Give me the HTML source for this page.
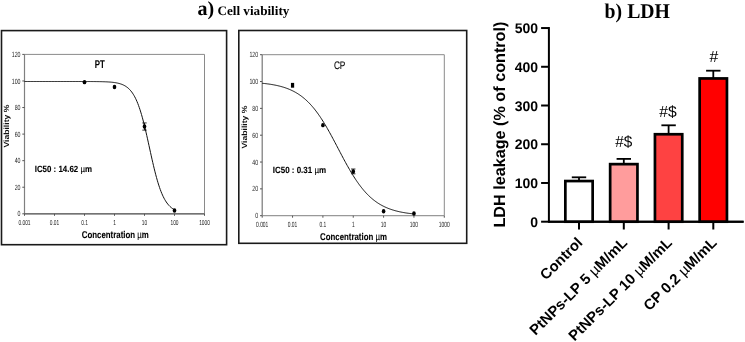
<!DOCTYPE html>
<html><head><meta charset="utf-8"><style>
html,body{margin:0;padding:0;background:#fff;}
svg{display:block;will-change:transform;text-rendering:geometricPrecision;font-family:"Liberation Sans",sans-serif;}
</style></head><body>
<svg width="745" height="342" viewBox="0 0 745 342">
<rect width="745" height="342" fill="#fff"/>
<rect x="1.5" y="30.6" width="225.1" height="214.1" fill="none" stroke="#1a1a1a" stroke-width="1.6"/>
<line x1="24.5" y1="54.4" x2="204.5" y2="54.4" stroke="#8a8a8a" stroke-width="1"/>
<line x1="204.5" y1="54.4" x2="204.5" y2="213.8" stroke="#8a8a8a" stroke-width="1"/>
<line x1="24.5" y1="54.4" x2="24.5" y2="213.8" stroke="#808080" stroke-width="1.2"/>
<line x1="24.5" y1="213.8" x2="204.5" y2="213.8" stroke="#444" stroke-width="1.3"/>
<line x1="22.3" y1="213.8" x2="24.5" y2="213.8" stroke="#555" stroke-width="1"/>
<text x="20.5" y="216.4" font-size="7.5" text-anchor="end" fill="#222" transform="translate(20.5 213.8) scale(0.7 1) translate(-20.5 -213.8)">0</text>
<line x1="22.3" y1="187.23333333333335" x2="24.5" y2="187.23333333333335" stroke="#555" stroke-width="1"/>
<text x="20.5" y="189.83333333333334" font-size="7.5" text-anchor="end" fill="#222" transform="translate(20.5 187.23333333333335) scale(0.7 1) translate(-20.5 -187.23333333333335)">20</text>
<line x1="22.3" y1="160.66666666666669" x2="24.5" y2="160.66666666666669" stroke="#555" stroke-width="1"/>
<text x="20.5" y="163.26666666666668" font-size="7.5" text-anchor="end" fill="#222" transform="translate(20.5 160.66666666666669) scale(0.7 1) translate(-20.5 -160.66666666666669)">40</text>
<line x1="22.3" y1="134.10000000000002" x2="24.5" y2="134.10000000000002" stroke="#555" stroke-width="1"/>
<text x="20.5" y="136.70000000000002" font-size="7.5" text-anchor="end" fill="#222" transform="translate(20.5 134.10000000000002) scale(0.7 1) translate(-20.5 -134.10000000000002)">60</text>
<line x1="22.3" y1="107.53333333333335" x2="24.5" y2="107.53333333333335" stroke="#555" stroke-width="1"/>
<text x="20.5" y="110.13333333333334" font-size="7.5" text-anchor="end" fill="#222" transform="translate(20.5 107.53333333333335) scale(0.7 1) translate(-20.5 -107.53333333333335)">80</text>
<line x1="22.3" y1="80.96666666666667" x2="24.5" y2="80.96666666666667" stroke="#555" stroke-width="1"/>
<text x="20.5" y="83.56666666666666" font-size="7.5" text-anchor="end" fill="#222" transform="translate(20.5 80.96666666666667) scale(0.7 1) translate(-20.5 -80.96666666666667)">100</text>
<line x1="22.3" y1="54.400000000000006" x2="24.5" y2="54.400000000000006" stroke="#555" stroke-width="1"/>
<text x="20.5" y="57.00000000000001" font-size="7.5" text-anchor="end" fill="#222" transform="translate(20.5 54.400000000000006) scale(0.7 1) translate(-20.5 -54.400000000000006)">120</text>
<line x1="24.5" y1="213.8" x2="24.5" y2="215.8" stroke="#555" stroke-width="1"/>
<text x="24.5" y="225.4" font-size="7.2" text-anchor="middle" fill="#222" transform="translate(24.5 0) scale(0.67 1) translate(-24.5 0)">0.001</text>
<line x1="54.5" y1="213.8" x2="54.5" y2="215.8" stroke="#555" stroke-width="1"/>
<text x="54.5" y="225.4" font-size="7.2" text-anchor="middle" fill="#222" transform="translate(54.5 0) scale(0.67 1) translate(-54.5 0)">0.01</text>
<line x1="84.5" y1="213.8" x2="84.5" y2="215.8" stroke="#555" stroke-width="1"/>
<text x="84.5" y="225.4" font-size="7.2" text-anchor="middle" fill="#222" transform="translate(84.5 0) scale(0.67 1) translate(-84.5 0)">0.1</text>
<line x1="114.5" y1="213.8" x2="114.5" y2="215.8" stroke="#555" stroke-width="1"/>
<text x="114.5" y="225.4" font-size="7.2" text-anchor="middle" fill="#222" transform="translate(114.5 0) scale(0.67 1) translate(-114.5 0)">1</text>
<line x1="144.5" y1="213.8" x2="144.5" y2="215.8" stroke="#555" stroke-width="1"/>
<text x="144.5" y="225.4" font-size="7.2" text-anchor="middle" fill="#222" transform="translate(144.5 0) scale(0.67 1) translate(-144.5 0)">10</text>
<line x1="174.5" y1="213.8" x2="174.5" y2="215.8" stroke="#555" stroke-width="1"/>
<text x="174.5" y="225.4" font-size="7.2" text-anchor="middle" fill="#222" transform="translate(174.5 0) scale(0.67 1) translate(-174.5 0)">100</text>
<line x1="204.5" y1="213.8" x2="204.5" y2="215.8" stroke="#555" stroke-width="1"/>
<text x="204.5" y="225.4" font-size="7.2" text-anchor="middle" fill="#222" transform="translate(204.5 0) scale(0.67 1) translate(-204.5 0)">1000</text>
<polyline points="24.50,81.50 25.25,81.50 26.00,81.50 26.75,81.50 27.50,81.50 28.25,81.50 29.00,81.50 29.75,81.50 30.50,81.50 31.25,81.50 32.00,81.50 32.75,81.50 33.50,81.50 34.25,81.50 35.00,81.50 35.75,81.50 36.50,81.50 37.25,81.50 38.00,81.50 38.75,81.50 39.50,81.50 40.25,81.50 41.00,81.50 41.75,81.50 42.50,81.50 43.25,81.50 44.00,81.50 44.75,81.50 45.50,81.50 46.25,81.50 47.00,81.50 47.75,81.50 48.50,81.50 49.25,81.50 50.00,81.50 50.75,81.50 51.50,81.50 52.25,81.50 53.00,81.50 53.75,81.50 54.50,81.50 55.25,81.50 56.00,81.50 56.75,81.50 57.50,81.50 58.25,81.50 59.00,81.50 59.75,81.50 60.50,81.50 61.25,81.50 62.00,81.50 62.75,81.50 63.50,81.50 64.25,81.50 65.00,81.50 65.75,81.50 66.50,81.50 67.25,81.50 68.00,81.50 68.75,81.50 69.50,81.50 70.25,81.50 71.00,81.50 71.75,81.50 72.50,81.50 73.25,81.50 74.00,81.50 74.75,81.50 75.50,81.50 76.25,81.50 77.00,81.50 77.75,81.50 78.50,81.51 79.25,81.51 80.00,81.51 80.75,81.51 81.50,81.51 82.25,81.51 83.00,81.51 83.75,81.51 84.50,81.51 85.25,81.52 86.00,81.52 86.75,81.52 87.50,81.52 88.25,81.53 89.00,81.53 89.75,81.53 90.50,81.54 91.25,81.54 92.00,81.55 92.75,81.55 93.50,81.56 94.25,81.56 95.00,81.57 95.75,81.58 96.50,81.59 97.25,81.60 98.00,81.61 98.75,81.62 99.50,81.63 100.25,81.65 101.00,81.66 101.75,81.68 102.50,81.70 103.25,81.72 104.00,81.75 104.75,81.77 105.50,81.80 106.25,81.84 107.00,81.87 107.75,81.91 108.50,81.96 109.25,82.01 110.00,82.06 110.75,82.13 111.50,82.19 112.25,82.27 113.00,82.35 113.75,82.45 114.50,82.55 115.25,82.66 116.00,82.79 116.75,82.93 117.50,83.08 118.25,83.25 119.00,83.44 119.75,83.65 120.50,83.88 121.25,84.13 122.00,84.42 122.75,84.73 123.50,85.07 124.25,85.45 125.00,85.86 125.75,86.32 126.50,86.83 127.25,87.38 128.00,88.00 128.75,88.67 129.50,89.40 130.25,90.21 131.00,91.09 131.75,92.06 132.50,93.11 133.25,94.25 134.00,95.50 134.75,96.85 135.50,98.31 136.25,99.89 137.00,101.59 137.75,103.42 138.50,105.39 139.25,107.48 140.00,109.71 140.75,112.08 141.50,114.59 142.25,117.22 143.00,119.99 143.75,122.88 144.50,125.88 145.25,128.98 146.00,132.18 146.75,135.46 147.50,138.80 148.25,142.19 149.00,145.60 149.75,149.03 150.50,152.45 151.25,155.84 152.00,159.19 152.75,162.48 153.50,165.69 154.25,168.82 155.00,171.84 155.75,174.75 156.50,177.54 157.25,180.21 158.00,182.74 158.75,185.13 159.50,187.39 160.25,189.51 161.00,191.50 161.75,193.36 162.50,195.08 163.25,196.69 164.00,198.17 164.75,199.55 165.50,200.81 166.25,201.97 167.00,203.04 167.75,204.02 168.50,204.92 169.25,205.74 170.00,206.49 170.75,207.18 171.50,207.80 172.25,208.36 173.00,208.88 173.75,209.35 174.50,209.77" fill="none" stroke="#111" stroke-width="1"/>
<ellipse cx="84.5" cy="82.16216666666668" rx="1.8" ry="2.2" fill="#000"/>
<ellipse cx="114.5" cy="86.94416666666667" rx="1.8" ry="2.2" fill="#000"/>
<line x1="144.5" y1="122.94200000000001" x2="144.5" y2="130.115" stroke="#000" stroke-width="0.8"/>
<line x1="142.3" y1="122.94200000000001" x2="146.7" y2="122.94200000000001" stroke="#000" stroke-width="0.8"/>
<line x1="142.3" y1="130.115" x2="146.7" y2="130.115" stroke="#000" stroke-width="0.8"/>
<ellipse cx="144.5" cy="126.52850000000001" rx="1.8" ry="2.2" fill="#000"/>
<ellipse cx="174.5" cy="210.47916666666669" rx="1.8" ry="2.2" fill="#000"/>
<text x="94.8" y="68.0" font-size="11.2" font-weight="bold" fill="#000" stroke="#000" stroke-width="0.12" textLength="10.0" lengthAdjust="spacingAndGlyphs">PT</text>
<text x="34.7" y="171.9" font-size="9" font-weight="bold" fill="#000" stroke="#000" stroke-width="0.1" textLength="57.3" lengthAdjust="spacingAndGlyphs">IC50 : 14.62 <tspan font-weight="normal">µ</tspan>m</text>
<text x="81.8" y="238.1" font-size="9.8" font-weight="bold" fill="#000" stroke="#000" stroke-width="0.1" textLength="67" lengthAdjust="spacingAndGlyphs">Concentration <tspan font-weight="normal">µ</tspan>m</text>
<text x="0" y="0" font-size="7.5" font-weight="bold" fill="#111" textLength="43" lengthAdjust="spacingAndGlyphs" transform="translate(9.1 147.6) rotate(-90)">Viability %</text>
<rect x="238.8" y="30.5" width="227.89999999999998" height="212.8" fill="none" stroke="#1a1a1a" stroke-width="1.6"/>
<line x1="262.2" y1="54.7" x2="444.3" y2="54.7" stroke="#8a8a8a" stroke-width="1"/>
<line x1="444.3" y1="54.7" x2="444.3" y2="215.7" stroke="#8a8a8a" stroke-width="1"/>
<line x1="262.2" y1="54.7" x2="262.2" y2="215.7" stroke="#777" stroke-width="1.2"/>
<line x1="262.2" y1="215.7" x2="444.3" y2="215.7" stroke="#999" stroke-width="1.3"/>
<line x1="260.0" y1="215.7" x2="262.2" y2="215.7" stroke="#555" stroke-width="1"/>
<text x="258.2" y="218.29999999999998" font-size="7.5" text-anchor="end" fill="#222" transform="translate(258.2 215.7) scale(0.7 1) translate(-258.2 -215.7)">0</text>
<line x1="260.0" y1="188.86666666666665" x2="262.2" y2="188.86666666666665" stroke="#555" stroke-width="1"/>
<text x="258.2" y="191.46666666666664" font-size="7.5" text-anchor="end" fill="#222" transform="translate(258.2 188.86666666666665) scale(0.7 1) translate(-258.2 -188.86666666666665)">20</text>
<line x1="260.0" y1="162.03333333333333" x2="262.2" y2="162.03333333333333" stroke="#555" stroke-width="1"/>
<text x="258.2" y="164.63333333333333" font-size="7.5" text-anchor="end" fill="#222" transform="translate(258.2 162.03333333333333) scale(0.7 1) translate(-258.2 -162.03333333333333)">40</text>
<line x1="260.0" y1="135.2" x2="262.2" y2="135.2" stroke="#555" stroke-width="1"/>
<text x="258.2" y="137.79999999999998" font-size="7.5" text-anchor="end" fill="#222" transform="translate(258.2 135.2) scale(0.7 1) translate(-258.2 -135.2)">60</text>
<line x1="260.0" y1="108.36666666666666" x2="262.2" y2="108.36666666666666" stroke="#555" stroke-width="1"/>
<text x="258.2" y="110.96666666666665" font-size="7.5" text-anchor="end" fill="#222" transform="translate(258.2 108.36666666666666) scale(0.7 1) translate(-258.2 -108.36666666666666)">80</text>
<line x1="260.0" y1="81.53333333333333" x2="262.2" y2="81.53333333333333" stroke="#555" stroke-width="1"/>
<text x="258.2" y="84.13333333333333" font-size="7.5" text-anchor="end" fill="#222" transform="translate(258.2 81.53333333333333) scale(0.7 1) translate(-258.2 -81.53333333333333)">100</text>
<line x1="260.0" y1="54.69999999999999" x2="262.2" y2="54.69999999999999" stroke="#555" stroke-width="1"/>
<text x="258.2" y="57.29999999999999" font-size="7.5" text-anchor="end" fill="#222" transform="translate(258.2 54.69999999999999) scale(0.7 1) translate(-258.2 -54.69999999999999)">120</text>
<line x1="262.2" y1="215.7" x2="262.2" y2="217.7" stroke="#555" stroke-width="1"/>
<text x="262.2" y="227.1" font-size="7.7" text-anchor="middle" fill="#222" transform="translate(262.2 0) scale(0.64 1) translate(-262.2 0)">0.001</text>
<line x1="292.55" y1="215.7" x2="292.55" y2="217.7" stroke="#555" stroke-width="1"/>
<text x="292.55" y="227.1" font-size="7.7" text-anchor="middle" fill="#222" transform="translate(292.55 0) scale(0.64 1) translate(-292.55 0)">0.01</text>
<line x1="322.9" y1="215.7" x2="322.9" y2="217.7" stroke="#555" stroke-width="1"/>
<text x="322.9" y="227.1" font-size="7.7" text-anchor="middle" fill="#222" transform="translate(322.9 0) scale(0.64 1) translate(-322.9 0)">0.1</text>
<line x1="353.25" y1="215.7" x2="353.25" y2="217.7" stroke="#555" stroke-width="1"/>
<text x="353.25" y="227.1" font-size="7.7" text-anchor="middle" fill="#222" transform="translate(353.25 0) scale(0.64 1) translate(-353.25 0)">1</text>
<line x1="383.6" y1="215.7" x2="383.6" y2="217.7" stroke="#555" stroke-width="1"/>
<text x="383.6" y="227.1" font-size="7.7" text-anchor="middle" fill="#222" transform="translate(383.6 0) scale(0.64 1) translate(-383.6 0)">10</text>
<line x1="413.95000000000005" y1="215.7" x2="413.95000000000005" y2="217.7" stroke="#555" stroke-width="1"/>
<text x="413.95000000000005" y="227.1" font-size="7.7" text-anchor="middle" fill="#222" transform="translate(413.95000000000005 0) scale(0.64 1) translate(-413.95000000000005 0)">100</text>
<line x1="444.3" y1="215.7" x2="444.3" y2="217.7" stroke="#555" stroke-width="1"/>
<text x="444.3" y="227.1" font-size="7.7" text-anchor="middle" fill="#222" transform="translate(444.3 0) scale(0.64 1) translate(-444.3 0)">1000</text>
<polyline points="262.20,83.27 262.96,83.35 263.72,83.43 264.48,83.51 265.24,83.60 265.99,83.69 266.75,83.78 267.51,83.88 268.27,83.98 269.03,84.09 269.79,84.20 270.55,84.31 271.31,84.43 272.06,84.56 272.82,84.69 273.58,84.82 274.34,84.97 275.10,85.11 275.86,85.27 276.62,85.43 277.38,85.59 278.13,85.77 278.89,85.95 279.65,86.14 280.41,86.33 281.17,86.54 281.93,86.75 282.69,86.97 283.44,87.20 284.20,87.44 284.96,87.69 285.72,87.95 286.48,88.22 287.24,88.50 288.00,88.79 288.76,89.09 289.51,89.41 290.27,89.73 291.03,90.07 291.79,90.43 292.55,90.79 293.31,91.17 294.07,91.57 294.83,91.97 295.58,92.40 296.34,92.84 297.10,93.29 297.86,93.77 298.62,94.26 299.38,94.76 300.14,95.29 300.90,95.83 301.65,96.39 302.41,96.97 303.17,97.57 303.93,98.19 304.69,98.84 305.45,99.50 306.21,100.18 306.97,100.89 307.73,101.61 308.48,102.36 309.24,103.14 310.00,103.93 310.76,104.75 311.52,105.59 312.28,106.46 313.04,107.35 313.80,108.26 314.55,109.20 315.31,110.16 316.07,111.15 316.83,112.16 317.59,113.19 318.35,114.25 319.11,115.33 319.87,116.43 320.62,117.56 321.38,118.71 322.14,119.89 322.90,121.08 323.66,122.30 324.42,123.54 325.18,124.79 325.94,126.07 326.69,127.37 327.45,128.68 328.21,130.01 328.97,131.36 329.73,132.72 330.49,134.09 331.25,135.48 332.00,136.88 332.76,138.29 333.52,139.72 334.28,141.14 335.04,142.58 335.80,144.02 336.56,145.47 337.32,146.92 338.07,148.37 338.83,149.82 339.59,151.26 340.35,152.71 341.11,154.15 341.87,155.59 342.63,157.02 343.39,158.45 344.14,159.86 344.90,161.27 345.66,162.66 346.42,164.04 347.18,165.41 347.94,166.76 348.70,168.09 349.46,169.41 350.21,170.72 350.97,172.00 351.73,173.26 352.49,174.51 353.25,175.73 354.01,176.94 354.77,178.12 355.53,179.28 356.29,180.41 357.04,181.52 357.80,182.61 358.56,183.68 359.32,184.72 360.08,185.74 360.84,186.73 361.60,187.70 362.36,188.65 363.11,189.57 363.87,190.47 364.63,191.34 365.39,192.19 366.15,193.02 366.91,193.82 367.67,194.60 368.43,195.36 369.18,196.10 369.94,196.81 370.70,197.50 371.46,198.17 372.22,198.82 372.98,199.45 373.74,200.05 374.50,200.64 375.25,201.21 376.01,201.76 376.77,202.29 377.53,202.80 378.29,203.30 379.05,203.78 379.81,204.24 380.56,204.68 381.32,205.11 382.08,205.53 382.84,205.93 383.60,206.31 384.36,206.68 385.12,207.04 385.88,207.38 386.63,207.71 387.39,208.03 388.15,208.34 388.91,208.63 389.67,208.92 390.43,209.19 391.19,209.45 391.95,209.71 392.71,209.95 393.46,210.18 394.22,210.41 394.98,210.62 395.74,210.83 396.50,211.03 397.26,211.22 398.02,211.40 398.77,211.58 399.53,211.75 400.29,211.91 401.05,212.07 401.81,212.22 402.57,212.36 403.33,212.50 404.09,212.63 404.85,212.76 405.60,212.88 406.36,213.00 407.12,213.11 407.88,213.22 408.64,213.32 409.40,213.42 410.16,213.51 410.92,213.60 411.67,213.69 412.43,213.78 413.19,213.86 413.95,213.93" fill="none" stroke="#111" stroke-width="1"/>
<rect x="290.95" y="82.88999999999999" width="3.2" height="4.8" fill="#000"/>
<ellipse cx="322.9" cy="125.13749999999999" rx="1.8" ry="2.2" fill="#000"/>
<line x1="353.25" y1="169.01" x2="353.25" y2="173.83999999999997" stroke="#000" stroke-width="0.8"/>
<line x1="351.05" y1="169.01" x2="355.45" y2="169.01" stroke="#000" stroke-width="0.8"/>
<line x1="351.05" y1="173.83999999999997" x2="355.45" y2="173.83999999999997" stroke="#000" stroke-width="0.8"/>
<ellipse cx="353.25" cy="171.42499999999998" rx="1.8" ry="2.2" fill="#000"/>
<ellipse cx="383.6" cy="211.27249999999998" rx="1.8" ry="2.2" fill="#000"/>
<ellipse cx="413.95000000000005" cy="213.5533333333333" rx="1.8" ry="2.2" fill="#000"/>
<text x="333.9" y="69.2" font-size="10.9" font-weight="normal" fill="#000" stroke="#000" stroke-width="0.12" textLength="11.5" lengthAdjust="spacingAndGlyphs">CP</text>
<text x="272.7" y="173.1" font-size="9" font-weight="bold" fill="#000" stroke="#000" stroke-width="0.1" textLength="53.5" lengthAdjust="spacingAndGlyphs">IC50 : 0.31 <tspan font-weight="normal">µ</tspan>m</text>
<text x="320" y="240" font-size="9.8" font-weight="bold" fill="#000" stroke="#000" stroke-width="0.1" textLength="67" lengthAdjust="spacingAndGlyphs">Concentration <tspan font-weight="normal">µ</tspan>m</text>
<text x="0" y="0" font-size="7.5" font-weight="bold" fill="#111" textLength="43" lengthAdjust="spacingAndGlyphs" transform="translate(247.1 148.5) rotate(-90)">Viability %</text>
<text x="197.4" y="14.8" font-family="Liberation Serif" font-size="20" font-weight="bold" fill="#000">a)</text>
<text x="217.4" y="14.9" font-family="Liberation Serif" font-size="13" font-weight="bold" fill="#000" textLength="72" lengthAdjust="spacingAndGlyphs">Cell viability</text>
<text x="604.6" y="18.4" font-family="Liberation Serif" font-size="21" font-weight="bold" fill="#000" textLength="65.4" lengthAdjust="spacingAndGlyphs">b) LDH</text>
<line x1="548.9" y1="27.05000000000001" x2="548.9" y2="222.7" stroke="#000" stroke-width="2"/>
<line x1="548.5" y1="221.7" x2="743.6" y2="221.7" stroke="#000" stroke-width="2"/>
<line x1="541.1" y1="221.7" x2="548.9" y2="221.7" stroke="#000" stroke-width="2"/>
<text x="538.1" y="226.7" font-size="14" font-weight="bold" text-anchor="end" fill="#000">0</text>
<line x1="541.1" y1="182.97" x2="548.9" y2="182.97" stroke="#000" stroke-width="2"/>
<text x="538.1" y="187.97" font-size="14" font-weight="bold" text-anchor="end" fill="#000">100</text>
<line x1="541.1" y1="144.24" x2="548.9" y2="144.24" stroke="#000" stroke-width="2"/>
<text x="538.1" y="149.24" font-size="14" font-weight="bold" text-anchor="end" fill="#000">200</text>
<line x1="541.1" y1="105.50999999999999" x2="548.9" y2="105.50999999999999" stroke="#000" stroke-width="2"/>
<text x="538.1" y="110.50999999999999" font-size="14" font-weight="bold" text-anchor="end" fill="#000">300</text>
<line x1="541.1" y1="66.78" x2="548.9" y2="66.78" stroke="#000" stroke-width="2"/>
<text x="538.1" y="71.78" font-size="14" font-weight="bold" text-anchor="end" fill="#000">400</text>
<line x1="541.1" y1="28.05000000000001" x2="548.9" y2="28.05000000000001" stroke="#000" stroke-width="2"/>
<text x="538.1" y="33.05000000000001" font-size="14" font-weight="bold" text-anchor="end" fill="#000">500</text>
<line x1="579.0" y1="177.3" x2="579.0" y2="180.7" stroke="#000" stroke-width="1.8"/>
<line x1="571.8" y1="177.3" x2="586.2" y2="177.3" stroke="#000" stroke-width="1.8"/>
<rect x="565.35" y="181.04999999999998" width="27.3" height="40.65" fill="#ffffff" stroke="#000" stroke-width="2.7"/>
<line x1="579.0" y1="221.7" x2="579.0" y2="229.5" stroke="#000" stroke-width="2"/>
<line x1="623.8" y1="158.9" x2="623.8" y2="163.8" stroke="#000" stroke-width="1.8"/>
<line x1="616.5999999999999" y1="158.9" x2="631.0" y2="158.9" stroke="#000" stroke-width="1.8"/>
<rect x="610.15" y="164.15" width="27.3" height="57.549999999999976" fill="#ff9c9c" stroke="#000" stroke-width="2.7"/>
<line x1="623.8" y1="221.7" x2="623.8" y2="229.5" stroke="#000" stroke-width="2"/>
<line x1="668.6" y1="125.3" x2="668.6" y2="133.9" stroke="#000" stroke-width="1.8"/>
<line x1="661.4" y1="125.3" x2="675.8000000000001" y2="125.3" stroke="#000" stroke-width="1.8"/>
<rect x="654.95" y="134.25" width="27.3" height="87.44999999999999" fill="#fe4242" stroke="#000" stroke-width="2.7"/>
<line x1="668.6" y1="221.7" x2="668.6" y2="229.5" stroke="#000" stroke-width="2"/>
<line x1="713.3" y1="70.7" x2="713.3" y2="78.1" stroke="#000" stroke-width="1.8"/>
<line x1="706.0999999999999" y1="70.7" x2="720.5" y2="70.7" stroke="#000" stroke-width="1.8"/>
<rect x="699.65" y="78.44999999999999" width="27.3" height="143.25" fill="#ff0000" stroke="#000" stroke-width="2.7"/>
<line x1="713.3" y1="221.7" x2="713.3" y2="229.5" stroke="#000" stroke-width="2"/>
<line x1="548.5" y1="221.7" x2="743.6" y2="221.7" stroke="#000" stroke-width="2"/>
<text x="615.3" y="146.8" font-size="16" fill="#000" textLength="17" lengthAdjust="spacingAndGlyphs">#$</text>
<text x="659.3" y="116.6" font-size="16" fill="#000" textLength="17.4" lengthAdjust="spacingAndGlyphs">#$</text>
<text x="709.6" y="61.6" font-size="16" fill="#000" textLength="8.8" lengthAdjust="spacingAndGlyphs">#</text>
<text x="0" y="0" font-size="16.2" font-weight="bold" fill="#000" text-anchor="middle" transform="translate(505 124.6) rotate(-90)">LDH leakage (% of control)</text>
<text x="0" y="0" font-size="14.8" font-weight="bold" fill="#000" text-anchor="end" transform="translate(583.3 243.5) rotate(-45)">Control</text>
<text x="0" y="0" font-size="14.8" font-weight="bold" fill="#000" text-anchor="end" transform="translate(628.0999999999999 243.5) rotate(-45)">PtNPs-LP 5 <tspan font-weight="normal">µ</tspan>M/mL</text>
<text x="0" y="0" font-size="14.8" font-weight="bold" fill="#000" text-anchor="end" transform="translate(672.9 243.5) rotate(-45)">PtNPs-LP 10 <tspan font-weight="normal">µ</tspan>M/mL</text>
<text x="0" y="0" font-size="14.8" font-weight="bold" fill="#000" text-anchor="end" transform="translate(717.5999999999999 243.5) rotate(-45)">CP 0.2 <tspan font-weight="normal">µ</tspan>M/mL</text>
</svg></body></html>
